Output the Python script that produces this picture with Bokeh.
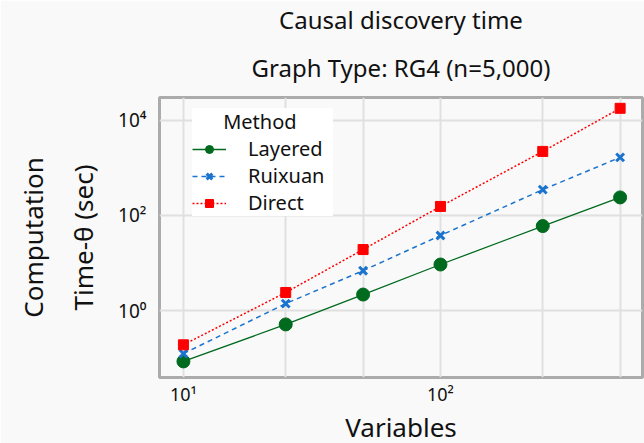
from bokeh.plotting import figure
from bokeh.models import FixedTicker, Title
from bokeh.embed import file_html
from bokeh.resources import INLINE

variables = [10, 25, 50, 100, 250, 500]
layered = [0.085, 0.51, 2.17, 9.3, 60, 240]
ruixuan = [0.124, 1.4, 6.9, 38, 350, 1670]
direct = [0.19, 2.4, 19.2, 155, 2230, 18000]

x_label_ticks = [10, 100]
x_tick_labels = ["10¹", "10²"]
y_ticks = [1, 100, 10000]
y_tick_labels = ["10⁰", "10²", "10⁴"]

FONT = "Noto Sans"

p = figure(frame_width=483, frame_height=280, x_axis_type="log", y_axis_type="log",
           x_range=(8.07, 611), y_range=(0.039, 30400),
           output_backend="svg", toolbar_location=None,
           min_border_left=150, min_border_right=3, min_border_top=89, min_border_bottom=66)
p.title = None
p.background_fill_color = "#f9f9f9"
p.border_fill_color = "#f9f9f9"
p.outline_line_color = "#ababab"
p.outline_line_width = 3

p.add_layout(Title(text="Graph Type: RG4 (n=5,000)", align="center", text_font=FONT,
                   text_font_size="24px", text_font_style="normal", text_color="#111111",
                   standoff=27), "above")
p.add_layout(Title(text="Causal discovery time", align="center", text_font=FONT,
                   text_font_size="24px", text_font_style="normal", text_color="#111111",
                   standoff=0), "above")

# x axis: labels only at decades, grid at every data column
p.xaxis.ticker = FixedTicker(ticks=x_label_ticks)
p.xaxis.major_label_overrides = {float(v): l for v, l in zip(x_label_ticks, x_tick_labels)}
p.xgrid.ticker = FixedTicker(ticks=variables)
p.xaxis.axis_label = "Variables"
# y axis
p.yaxis.ticker = FixedTicker(ticks=y_ticks)
p.yaxis.major_label_overrides = {float(v): l for v, l in zip(y_ticks, y_tick_labels)}
p.yaxis.axis_label = "Time-θ (sec)"
p.add_layout(Title(text="Computation", align="center", text_font=FONT,
                   text_font_size="26px", text_font_style="normal", text_color="#111111",
                   standoff=24), "left")

for ax in (p.xaxis, p.yaxis):
    ax.axis_line_color = None
    ax.major_tick_line_color = None
    ax.minor_tick_line_color = None
    ax.major_tick_out = 0
    ax.major_tick_in = 0
    ax.minor_tick_out = 0
    ax.minor_tick_in = 0
    ax.major_label_text_font = FONT
    ax.major_label_text_color = "#111111"
    ax.axis_label_text_font = FONT
    ax.axis_label_text_font_style = "normal"
    ax.axis_label_text_color = "#111111"
p.xaxis.major_label_text_font_size = "18px"
p.yaxis.major_label_text_font_size = "19px"
p.xaxis.axis_label_text_font_size = "26px"
p.yaxis.axis_label_text_font_size = "26px"
p.xaxis.major_label_standoff = 4
p.yaxis.major_label_standoff = 13
p.xaxis.axis_label_standoff = 0
p.yaxis.axis_label_standoff = 14

p.grid.grid_line_color = "#e0e0e0"
p.grid.grid_line_width = 2

green = "#006a1e"
blue = "#1a73cc"
red = "#ff0000"

p.line(variables, layered, line_color=green, line_width=1.3, legend_label="Layered")
p.scatter(variables, layered, marker="circle", size=13, fill_color=green, line_color=green,
          legend_label="Layered")
p.line(variables, ruixuan, line_color=blue, line_width=1.5, line_dash="5 4", legend_label="Ruixuan")
p.scatter(variables, ruixuan, marker="x", size=11, line_color=blue, line_width=3,
          legend_label="Ruixuan")
p.line(variables, direct, line_color=red, line_width=1.5, line_dash="2 2", legend_label="Direct")
p.scatter(variables, direct, marker="square", size=10, fill_color=red, line_color=red,
          legend_label="Direct")

leg = p.legend[0]
leg.title = "\u00a0\u00a0\u00a0\u00a0\u00a0\u00a0Method"
leg.title_text_font = FONT
leg.title_text_font_size = "20px"
leg.title_text_font_style = "normal"
leg.title_text_color = "#111111"
leg.title_standoff = -1
leg.label_text_font = FONT
leg.label_text_font_size = "20px"
leg.label_text_line_height = 0.8
leg.label_text_color = "#111111"
leg.location = (33, 161)
leg.background_fill_color = "white"
leg.background_fill_alpha = 1
leg.border_line_color = None
leg.glyph_width = 34
leg.glyph_height = 20
leg.label_height = 20
leg.label_width = 85
leg.label_standoff = 22
leg.spacing = 0
leg.padding = 10
leg.margin = 0

open("out.html", "w").write(file_html(p, INLINE))
